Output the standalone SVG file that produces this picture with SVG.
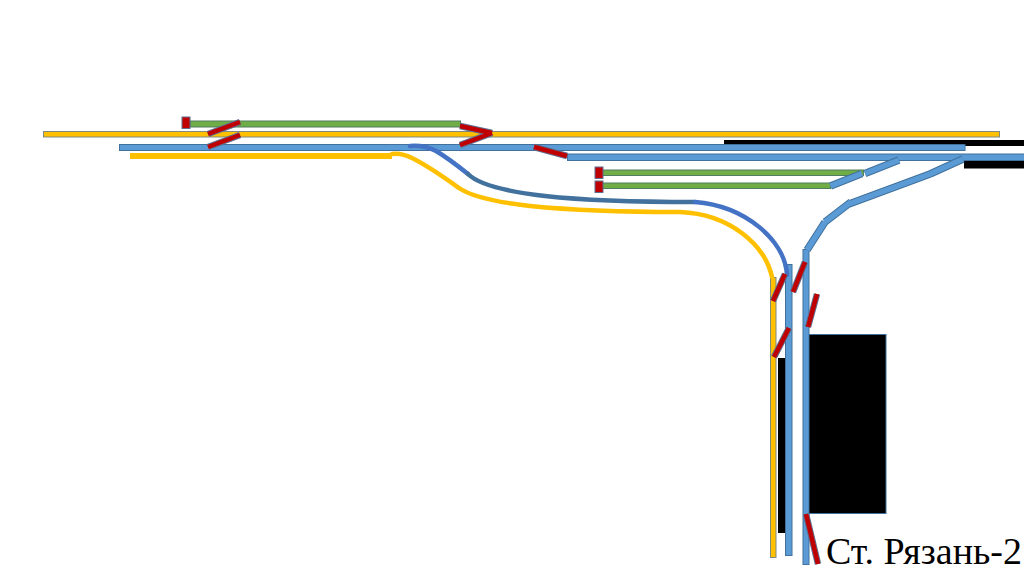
<svg xmlns="http://www.w3.org/2000/svg" width="1024" height="574" viewBox="0 0 1024 574">
<style>
.y{fill:#ffc000;stroke:#7f8a80;stroke-width:1}
.b{fill:#5b9bd5;stroke:#41719c;stroke-width:1}
.g{fill:#70ad47;stroke:#507e60;stroke-width:1}
.k{fill:#000}
.s{fill:#c00000;stroke:#5f6f90;stroke-width:1}
.r{stroke:#41719c;stroke-width:7.500;fill:none}
.rb{stroke:#5b9bd5;stroke-width:5.500;fill:none}
.d{stroke:#c00000;stroke-width:4.500;fill:none}
.e{stroke:#5f6f90;stroke-width:6.500;fill:none}
.c{fill:none;stroke-width:4.500;stroke-linecap:round;stroke-linejoin:round}
</style>
<rect width="1024" height="574" fill="#fff"/>
<g id="blocks">
<rect class="k" x="724" y="140" width="300" height="6"/>
<rect class="k" x="964" y="161" width="60" height="7.500"/>
<rect class="k" x="778" y="358" width="7" height="175"/>
<rect class="k" x="808" y="334.500" width="78" height="179" stroke="#41719c" stroke-width="1"/>
</g>
<g id="tracks">
<rect class="y" x="43.500" y="131.500" width="956" height="5.500"/>
<rect class="b" x="119.500" y="144.500" width="845.500" height="6"/>
<rect class="b" x="567.500" y="154" width="457" height="6.500"/>
<rect x="130" y="153" width="262" height="6" fill="#ffc000"/>
<rect class="g" x="190.500" y="121" width="270" height="6"/>
<rect class="g" x="602.500" y="170" width="261" height="5.500"/>
<rect class="g" x="602.500" y="183" width="228" height="5.500"/>
<rect class="y" x="770.500" y="277.500" width="5.500" height="280"/>
<rect class="b" x="785.500" y="264.500" width="6.500" height="291"/>
<rect class="b" x="803" y="249.500" width="6" height="315"/>
</g>
<g id="connectors">
<path class="c" stroke="#ffc000" d="M392 154C398 153 404 154 412 158C430 167 445 178 459 188C472 197 495 202 530 206C580 211 640 212 680 212C730 214 765 245 772 277"/>
<path class="c" stroke="#4472c4" d="M410 146C420 145 428 147 436 151C448 158 458 166 468 174"/>
<path class="c" stroke="#41719c" d="M468 174C480 186 510 192 545 196C590 201 650 202 695 202"/>
<path class="c" stroke="#4472c4" d="M695 202C745 206 785 240 787 275"/>
</g>
<g id="diagonals">
<path class="r" d="M830.500 186L862 173.500M865 173.500L899 160M807 250L825 222M825 222L851 202M849 204L930 174M930 174L963 159"/>
<path class="rb" d="M830.500 186L862 173.500M865 173.500L899 160M807 250L825 222M825 222L851 202M849 204L930 174M930 174L963 159"/>
</g>
<g id="switches">
<path class="e" d="M208 134L240 122M208 147L240 135M460 126L492 133M460 145L492 133M534 147L567 156M773 301L785 274M793 292L805 262M808 327L817 294M774 357L789 328M806 514L818 564"/>
<path class="d" d="M208 134L240 122M208 147L240 135M460 126L492 133M460 145L492 133M534 147L567 156M773 301L785 274M793 292L805 262M808 327L817 294M774 357L789 328M806 514L818 564"/>
<rect class="s" x="182" y="117" width="8" height="11.500"/>
<rect class="s" x="595" y="167" width="8" height="11.500"/>
<rect class="s" x="595" y="181" width="8" height="11.500"/>
</g>
<g id="label">
<text x="826" y="564" font-family="'Liberation Serif','Times New Roman',serif" font-size="38" fill="#000">Ст. Рязань-2</text>
</g>
</svg>
